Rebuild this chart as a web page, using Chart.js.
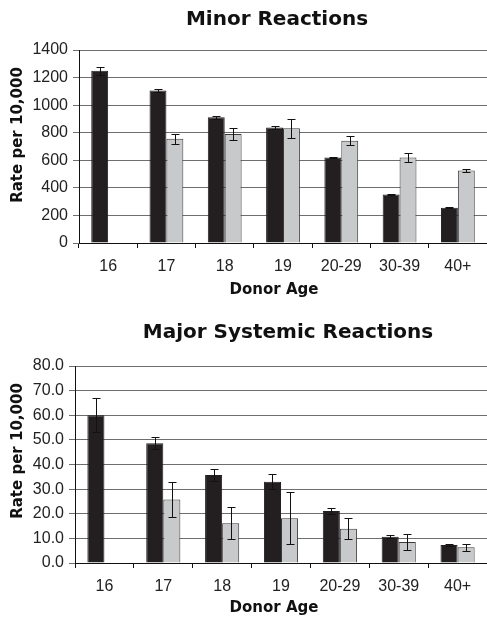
<!DOCTYPE html>
<html>
<head>
<meta charset="utf-8">
<script src="https://cdn.jsdelivr.net/npm/chart.js@4"></script>
<style>
  body { margin: 0; background: #fff; }
  canvas { display: block; }
</style>
</head>
<body>
<canvas id="minor-chart" width="487" height="310"></canvas>
<canvas id="major-chart" width="487" height="308"></canvas>
<script>
// Donor age groups (x axis)
const ageGroups = ["16", "17", "18", "19", "20-29", "30-39", "40+"];

// Minor reactions, rate per 10,000
const minorFirst = [1250, 1106, 912, 838, 620, 352, 256];
const minorFirstErr = [30, 10, 12, 12, 3, 3, 3];
const minorRepeat = [null, 756, 790, 833, 741, 620, 526];
const minorRepeatErr = [null, 35, 45, 68, 32, 30, 13];
const minorTicks = [0, 200, 400, 600, 800, 1000, 1200, 1400];

// Major systemic reactions, rate per 10,000
const majorFirst = [60.0, 48.6, 35.7, 33.0, 21.1, 10.7, 7.3];
const majorFirstErr = [7.0, 2.5, 2.4, 3.0, 1.1, 0.7, 0.3];
const majorRepeat = [null, 25.8, 16.1, 18.2, 13.9, 8.5, 6.4];
const majorRepeatErr = [null, 7.0, 6.5, 10.6, 4.3, 3.3, 1.5];
const majorTicks = [0, 10, 20, 30, 40, 50, 60, 70, 80];

const tickFont = { family: "'Liberation Sans', Arial, sans-serif", size: 16 };
const boldFont = "bold 15px 'DejaVu Sans', Verdana, sans-serif";

// error bars, drawn through the y scale
const errorBars = {
  id: "errorBars",
  afterDatasetsDraw(chart) {
    const ctx = chart.ctx;
    const y = chart.scales.y;
    ctx.save();
    ctx.strokeStyle = "#111";
    ctx.lineWidth = 1;
    chart.data.datasets.forEach((ds, i) => {
      const meta = chart.getDatasetMeta(i);
      meta.data.forEach((bar, j) => {
        const v = ds.data[j];
        const e = ds.errors[j];
        if (v == null || e == null) return;
        const x = Math.round(bar.x) + 0.5;
        const top = Math.round(y.getPixelForValue(v + e)) + 0.5;
        const bot = Math.round(y.getPixelForValue(v - e)) + 0.5;
        ctx.beginPath();
        ctx.moveTo(x, top); ctx.lineTo(x, bot);
        ctx.moveTo(x - 4, top); ctx.lineTo(x + 4, top);
        ctx.moveTo(x - 4, bot); ctx.lineTo(x + 4, bot);
        ctx.stroke();
      });
    });
    ctx.restore();
  }
};

// chart and axis titles
const titles = {
  id: "titles",
  afterDraw(chart, args, opts) {
    const ctx = chart.ctx;
    ctx.save();
    ctx.fillStyle = "#111";
    ctx.textAlign = "center";
    ctx.textBaseline = "middle";
    ctx.font = "bold 20px 'DejaVu Sans', Verdana, sans-serif";
    ctx.fillText(opts.title, opts.titleX, opts.titleY);
    ctx.font = boldFont;
    ctx.fillText("Donor Age", opts.xTitleX, opts.xTitleY);
    ctx.translate(opts.yTitleX, opts.yTitleY);
    ctx.rotate(-Math.PI / 2);
    ctx.fillText("Rate per 10,000", 0, 0);
    ctx.restore();
  }
};

function makeChart(id, first, firstErr, repeat, repeatErr, ticks, decimals, geo) {
  const ctx = document.getElementById(id).getContext("2d");
  return new Chart(ctx, {
    type: "bar",
    data: {
      labels: ageGroups,
      datasets: [{
        label: "First-time",
        data: first,
        errors: firstErr,
        backgroundColor: "#231f20",
        borderColor: "#231f20",
        borderWidth: 1,
      }, {
        label: "Repeat",
        data: repeat,
        errors: repeatErr,
        backgroundColor: "#c8c9cb",
        borderColor: "#3a3a3a",
        borderWidth: 1,
      }]
    },
    options: {
      responsive: false,
      animation: false,
      categoryPercentage: 0.58,
      barPercentage: 1.0,
      layout: { padding: { top: geo.top, right: 0, left: 0, bottom: 0 } },
      plugins: {
        legend: { display: false },
        tooltip: { enabled: false },
        titles: geo.titles,
      },
      scales: {
        x: {
          offset: true,
          grid: { offset: true, drawOnChartArea: false, drawTicks: true, tickLength: 5, color: "#111" },
          border: { display: true, color: "#111", width: 1 },
          ticks: { font: tickFont, color: "#222", padding: 9 },
          afterFit(scale) { scale.height = geo.xHeight; },
        },
        y: {
          min: ticks[0],
          max: ticks[ticks.length - 1],
          afterBuildTicks(scale) { scale.ticks = ticks.map(v => ({ value: v })); },
          grid: { color: "#6e6e6e", tickLength: 6 },
          border: { display: true, color: "#111", width: 1 },
          ticks: {
            font: tickFont, color: "#222", padding: 5,
            callback: v => Number(v).toFixed(decimals),
          },
          afterFit(scale) { scale.width = geo.yWidth; },
        }
      }
    },
    plugins: [errorBars, titles]
  });
}

makeChart("minor-chart", minorFirst, minorFirstErr, minorRepeat, minorRepeatErr, minorTicks, 0, {
  top: 50, xHeight: 67, yWidth: 79,
  titles: { title: "Minor Reactions", titleX: 277, titleY: 20, xTitleX: 274, xTitleY: 290, yTitleX: 18, yTitleY: 135 }
});

makeChart("major-chart", majorFirst, majorFirstErr, majorRepeat, majorRepeatErr, majorTicks, 1, {
  top: 56, xHeight: 55, yWidth: 75,
  titles: { title: "Major Systemic Reactions", titleX: 288, titleY: 23, xTitleX: 274, xTitleY: 298, yTitleX: 18, yTitleY: 141 }
});
</script>
</body>
</html>
